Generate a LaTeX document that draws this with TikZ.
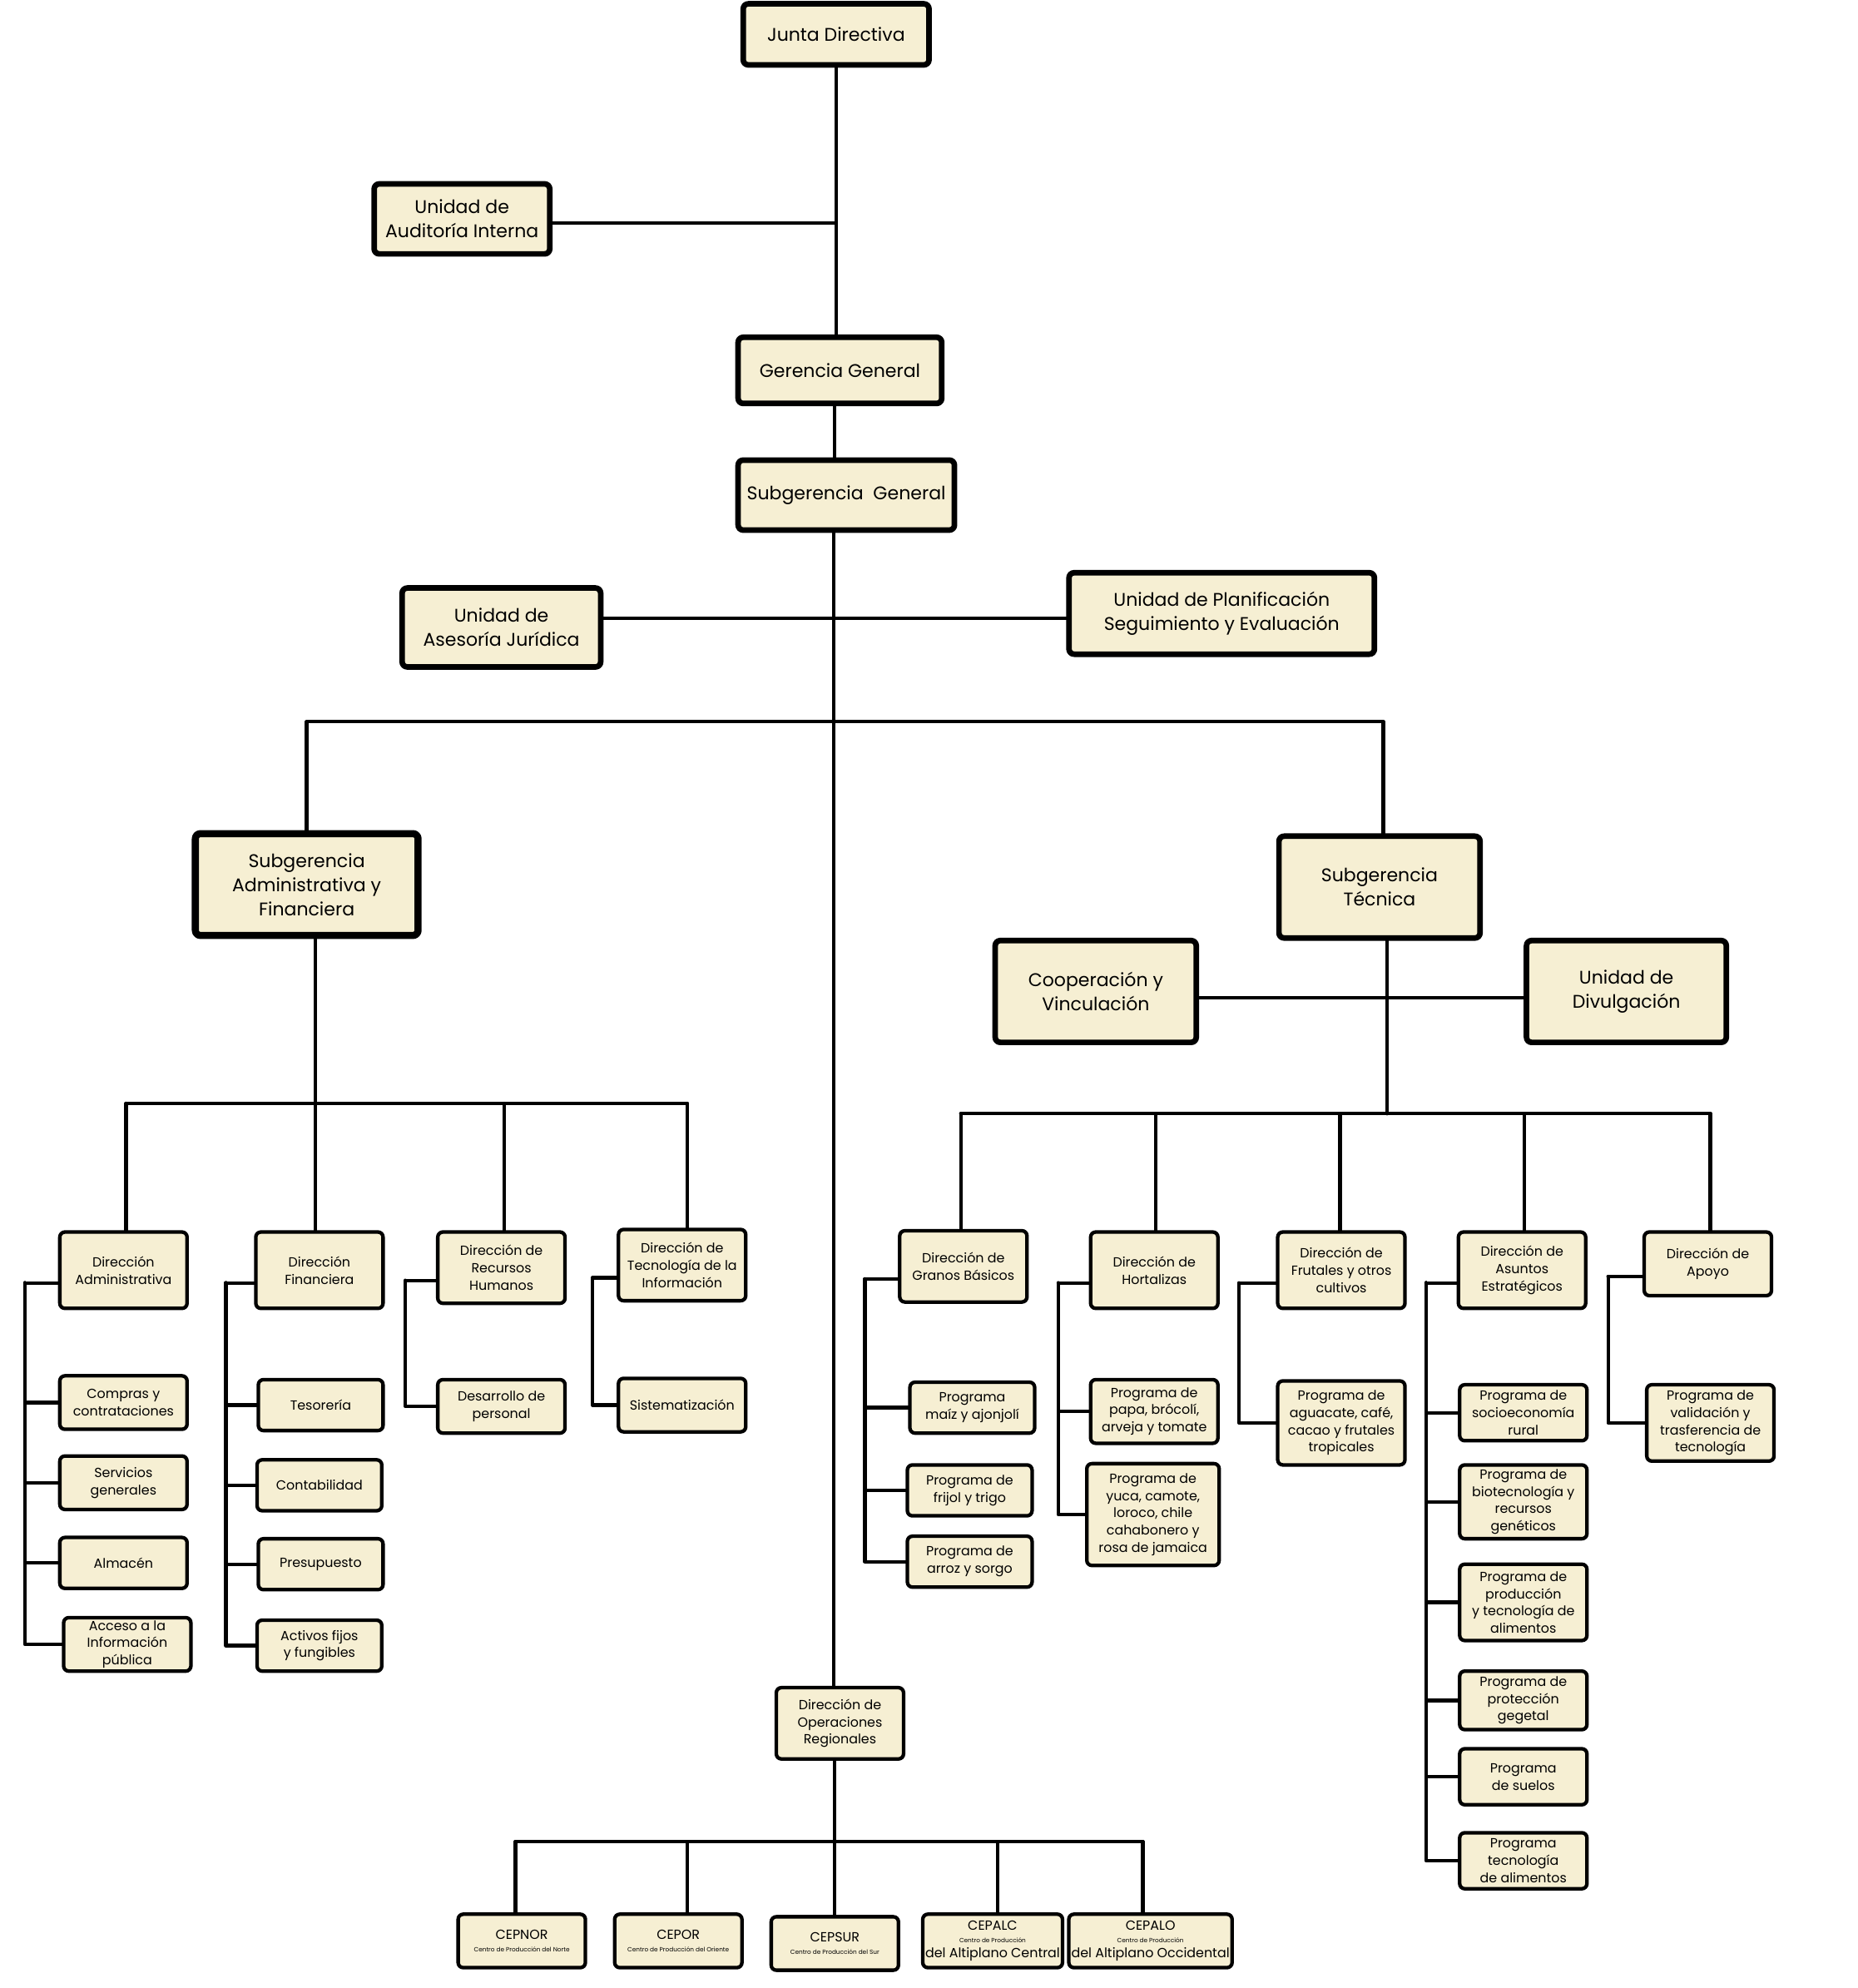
\documentclass[tikz,border=0pt]{standalone}
\usepackage{fontspec}
\setmainfont{Poppins}
\definecolor{crema}{RGB}{246,239,211}
\tikzset{
  wh/.style 2 args={minimum width=#1*0.5pt, minimum height=#2*0.5pt},
  box/.style={draw, fill=crema, rounded corners=2pt, line width=1.4pt, align=center,
    inner sep=1pt, font=\fontsize{5.2}{6.8}\selectfont},
  bigbox/.style={box, line width=2.2pt, font=\fontsize{7.2}{9.4}\selectfont},
  cep/.style={box, wh={100}{42}, font=\fontsize{5.2}{6}\selectfont},
  lin/.style={line width=1.4pt}
}
\newcommand{\cepsub}{\\[-1pt]\fontsize{2.4}{2.9}\selectfont}
\begin{document}
\begin{tikzpicture}[x=0.5pt,y=-0.5pt,line cap=round,line join=round]
\useasboundingbox (0,0) rectangle (1460,1562);
% connectors
\begin{scope}[lin]
\draw (657,27) -- (657,291);
\draw (363,175) -- (657,175);
\draw (656,291) -- (656,389);
\draw (655,389) -- (655,1354);
\draw (394,486) -- (960,486);
\draw (241,695) -- (241,567) -- (1087,567) -- (1087,697);
\draw (1090,697) -- (1090,875);
\draw (861,784) -- (1278,784);
\draw (248,695) -- (248,867);
\draw (99,867) -- (540,867);
\foreach \x in {99, 248, 396, 540}
  \draw (\x,867) -- (\x,990);
\draw (755,875) -- (1344,875);
\foreach \x in {755, 908, 1053, 1198, 1344}
  \draw (\x,875) -- (\x,990);
\draw (656,1354) -- (656,1447);
\draw (405,1447) -- (898,1447);
\foreach \x in {405, 540, 656, 784, 898}
  \draw (\x,1447) -- (\x,1520);
\end{scope}

% upper levels
\node[bigbox, wh={146}{48}] (junta) at (657,27) {Junta Directiva};
\node[bigbox, wh={138}{55}] (audit) at (363,172) {Unidad de\\Auditoría Interna};
\node[bigbox, wh={160}{52}] (gerencia) at (660,291) {Gerencia General};
\node[bigbox, wh={170}{55}] (subg) at (665,389) {Subgerencia\ \ General};
\node[bigbox, wh={156}{62}] (juridica) at (394,493) {Unidad de\\Asesoría Jurídica};
\node[bigbox, wh={240}{64}] (planif) at (960,482) {Unidad de Planificación\\Seguimiento y Evaluación};
\node[bigbox, wh={175}{80}, line width=2.8pt] (sadm) at (241,695) {Subgerencia\\Administrativa y\\Financiera};
\node[bigbox, wh={158}{80}] (stec) at (1084,697) {Subgerencia\\Técnica};
\node[bigbox, wh={158}{80}] (coop) at (861,779) {Cooperación y\\Vinculación};
\node[bigbox, wh={157}{80}] (divul) at (1278,779) {Unidad de\\Divulgación};

% administrativa y financiera
\node[box, wh={100}{60}] (dadm) at (97,998) {Dirección\\Administrativa};
\node[box, wh={100}{42}] (compras) at (97,1102) {Compras y\\contrataciones};
\node[box, wh={100}{42}] (servicios) at (97,1165) {Servicios\\generales};
\node[box, wh={100}{40}] (almacen) at (97,1228) {Almacén};
\node[box, wh={100}{42}] (acceso) at (100,1292) {Acceso a la\\Información\\pública};
\node[box, wh={100}{60}] (dfin) at (251,998) {Dirección\\Financiera};
\node[box, wh={98}{40}] (teso) at (252,1104) {Tesorería};
\node[box, wh={98}{40}] (conta) at (251,1167) {Contabilidad};
\node[box, wh={98}{40}] (presu) at (252,1229) {Presupuesto};
\node[box, wh={98}{40}] (activos) at (251,1293) {Activos fijos\\y fungibles};
\node[box, wh={100}{56}] (drh) at (394,996) {Dirección de\\Recursos\\Humanos};
\node[box, wh={100}{42}] (desarrollo) at (394,1105) {Desarrollo de\\personal};
\node[box, wh={100}{56}] (dti) at (536,994) {Dirección de\\Tecnología de la\\Información};
\node[box, wh={100}{42}] (sist) at (536,1104) {Sistematización};

% tecnica
\node[box, wh={100}{56}] (dgra) at (757,995) {Dirección de\\Granos Básicos};
\node[box, wh={98}{40}] (maiz) at (764,1106) {Programa\\maíz y ajonjolí};
\node[box, wh={98}{40}] (frijol) at (762,1171) {Programa de\\frijol y trigo};
\node[box, wh={98}{40}] (arroz) at (762,1227) {Programa de\\arroz y sorgo};
\node[box, wh={100}{60}] (dhor) at (907,998) {Dirección de\\Hortalizas};
\node[box, wh={100}{50}] (papa) at (907,1109) {Programa de\\papa, brócolí,\\arveja y tomate};
\node[box, wh={104}{80}] (yuca) at (906,1190) {Programa de\\yuca, camote,\\loroco, chile\\cahabonero y\\rosa de jamaica};
\node[box, wh={100}{60}] (dfru) at (1054,998) {Dirección de\\Frutales y otros\\cultivos};
\node[box, wh={100}{66}] (aguacate) at (1054,1118) {Programa de\\aguacate, café,\\cacao y frutales\\tropicales};
\node[box, wh={100}{60}] (dasu) at (1196,998) {Dirección de\\Asuntos\\Estratégicos};
\node[box, wh={100}{44}] (socio) at (1197,1110) {Programa de\\socioeconomía\\rural};
\node[box, wh={100}{58}] (biotec) at (1197,1180) {Programa de\\biotecnología y\\recursos\\genéticos};
\node[box, wh={100}{60}] (prod) at (1197,1259) {Programa de\\producción\\y tecnología de\\alimentos};
\node[box, wh={100}{46}] (proteccion) at (1197,1336) {Programa de\\protección\\gegetal};
\node[box, wh={100}{44}] (suelos) at (1197,1396) {Programa\\de suelos};
\node[box, wh={100}{44}] (tecnol) at (1197,1462) {Programa\\tecnología\\de alimentos};
\node[box, wh={100}{50}] (dapo) at (1342,993) {Dirección de\\Apoyo};
\node[box, wh={100}{60}] (valid) at (1344,1118) {Programa de\\validación y\\trasferencia de\\tecnología};

% operaciones regionales
\node[box, wh={100}{56}] (opreg) at (660,1354) {Dirección de\\Operaciones\\Regionales};
\node[cep] (cepnor) at (410,1525) {CEPNOR\cepsub Centro de Producción del Norte};
\node[cep] (cepor) at (533,1525) {CEPOR\cepsub Centro de Producción del Oriente};
\node[cep] (cepsur) at (656,1527) {CEPSUR\cepsub Centro de Producción del Sur};
\node[cep] (cepalc) at (780,1525) {CEPALC\cepsub Centro de Producción\\del Altiplano Central};
\node[cep] (cepalo) at (904,1525) {CEPALO\cepsub Centro de Producción\\del Altiplano Occidental};

% side branches
\foreach \d/\o/\kids in {dadm/26/{compras,servicios,almacen,acceso},
    dfin/22/{teso,conta,presu,activos}, drh/24/{desarrollo}, dti/19/{sist},
    dgra/26/{maiz,frijol,arroz}, dhor/24/{papa,yuca}, dfru/29/{aguacate},
    dasu/24/{socio,biotec,prod,proteccion,suelos,tecnol}, dapo/27/{valid}}{
  \draw[lin] ([yshift=-5]\d.west) -- ++(-\o,0) coordinate (sp);
  \foreach \k in \kids \draw[lin] (sp) |- (\k.west);
}
\end{tikzpicture}
\end{document}
